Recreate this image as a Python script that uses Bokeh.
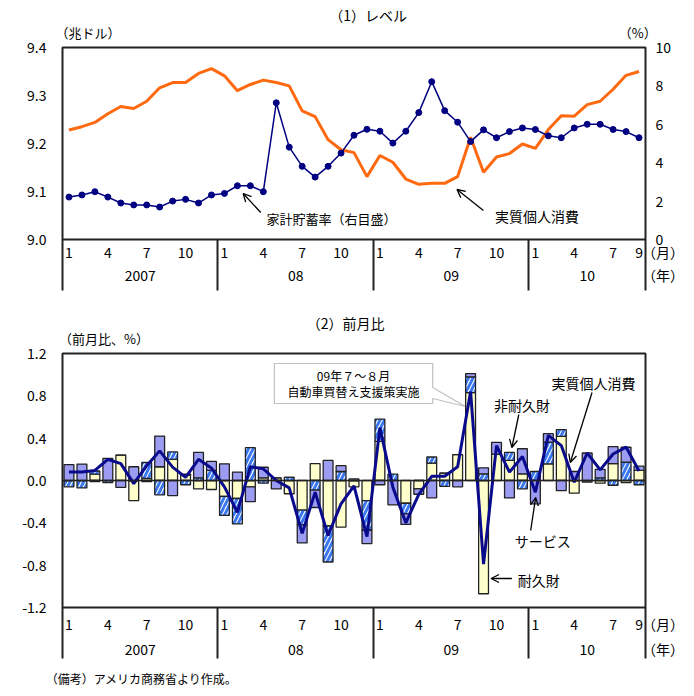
from bokeh.plotting import figure
from bokeh.models import (LinearAxis, Range1d, FixedTicker, NumeralTickFormatter, Label,
                          Arrow, OpenHead, Span, PolyAnnotation)
from bokeh.layouts import column
from bokeh.embed import file_html
from bokeh.resources import INLINE

FONT = "Noto Sans CJK JP"

# ---------------- data ----------------
months = list(range(45))  # Jan 2007 .. Sep 2010
month_ticks = [0, 3, 6, 9, 12, 15, 18, 21, 24, 27, 30, 33, 36, 39, 42, 44]
month_labels = ["1", "4", "7", "10"] * 3 + ["1", "4", "7", "9"]
year_centers = [5.5, 17.5, 29.5, 40.0]
year_labels = ["2007", "08", "09", "10"]
year_bounds = [-0.5, 11.5, 23.5, 35.5, 44.5]

# (1) level: real personal consumption (trillion $) and household saving rate (%)
pce_level = [9.228, 9.235, 9.244, 9.262, 9.277, 9.273, 9.288, 9.316, 9.327, 9.327, 9.346, 9.356,
             9.341, 9.310, 9.323, 9.332, 9.327, 9.320, 9.268, 9.256, 9.208, 9.187, 9.181, 9.131,
             9.175, 9.161, 9.126, 9.115, 9.117, 9.117, 9.131, 9.213, 9.140, 9.172, 9.179, 9.199,
             9.190, 9.229, 9.258, 9.257, 9.281, 9.288, 9.313, 9.342, 9.350]
saving_rate = [2.21, 2.32, 2.49, 2.21, 1.90, 1.80, 1.80, 1.69, 2.00, 2.09, 1.90, 2.32,
               2.40, 2.80, 2.80, 2.49, 7.12, 4.81, 3.81, 3.25, 3.81, 4.50, 5.43, 5.74,
               5.64, 5.02, 5.64, 6.61, 8.22, 6.71, 6.11, 5.10, 5.71, 5.30, 5.62, 5.81,
               5.73, 5.40, 5.30, 5.81, 6.00, 6.00, 5.73, 5.62, 5.30]

# (2) month-on-month change (%) and contributions
nondurable = [0.00, 0.00, 0.06, 0.00, 0.24, -0.19, 0.02, 0.13, 0.20, 0.05, -0.08, -0.085,
              -0.15, -0.17, -0.06, 0.025, 0.025, -0.125, -0.28, 0.16, -0.43, -0.44, -0.06, -0.19,
              0.37, 0.00, -0.215, -0.08, 0.165, 0.07, 0.245, 0.83, -1.07, 0.25, 0.19, 0.063,
              0.00, 0.158, 0.417, -0.12, -0.015, -0.025, 0.16, -0.02, 0.095]
durable = [-0.06, -0.07, 0.03, -0.02, 0.00, 0.00, 0.15, -0.135, 0.07, -0.04, 0.025, 0.095,
           -0.18, -0.24, 0.31, -0.025, 0.00, 0.03, -0.14, -0.09, -0.34, 0.085, 0.00, -0.28,
           0.21, 0.06, -0.10, 0.00, 0.057, -0.055, 0.00, 0.15, 0.063, 0.00, 0.075, -0.079,
           0.085, 0.205, 0.063, 0.00, 0.00, 0.025, -0.045, 0.174, -0.04]
services = [0.15, 0.155, -0.01, 0.21, -0.065, 0.13, -0.01, 0.29, -0.142, 0.01, 0.24, 0.085,
            0.158, 0.08, -0.14, 0.10, -0.08, 0.00, -0.17, -0.165, 0.19, 0.055, 0.015, -0.126,
            -0.04, -0.23, -0.10, -0.05, -0.164, 0.00, -0.06, 0.03, 0.057, 0.11, -0.165, 0.237,
            -0.22, 0.079, -0.095, 0.085, 0.26, 0.08, 0.16, 0.14, 0.04]
pce_mom = [0.08, 0.08, 0.095, 0.20, 0.16, -0.03, 0.14, 0.28, 0.126, 0.03, 0.20, 0.117,
           -0.06, -0.30, 0.13, 0.11, 0.00, -0.07, -0.50, -0.11, -0.52, -0.22, -0.05, -0.53,
           0.50, -0.063, -0.40, -0.13, 0.04, 0.04, 0.13, 0.84, -0.79, 0.33, 0.079, 0.227,
           -0.11, 0.426, 0.33, -0.016, 0.26, 0.10, 0.25, 0.316, 0.09]

PAD = "\u3000\u3000\u3000"   # keeps the unit marks to the right of the last divider


# --------------- helpers (pixel -> data for annotations) ---------------
def tx(px):
    return round(-0.5 + (px - 48) / (597 / 45), 3)

def ty(py):
    return 9.0 + (239 - py) / 480.0

def bx(px):
    return round(-0.5 + (px - 62) / (589 / 45), 3)

def by(py):
    return 1.2 - (py - 353) / (254 / 2.4)


def style_common(p):
    p.grid.visible = False
    p.outline_line_color = "#222222"
    p.outline_line_width = 2
    p.background_fill_color = "white"
    p.border_fill_color = "white"


def plain_axis(ax, standoff, size="14px"):
    ax.major_tick_line_color = None
    ax.minor_tick_line_color = None
    ax.major_tick_out = 0
    ax.major_tick_in = 0
    ax.minor_tick_out = 0
    ax.minor_tick_in = 0
    ax.axis_line_color = None
    ax.major_label_standoff = standoff
    ax.major_label_text_font = FONT
    ax.major_label_text_font_size = size
    ax.major_label_text_color = "black"


def add_month_axes(p, div_len, standoff_m, standoff_y):
    ticks_m = month_ticks + [44.5]
    labels_m = month_labels + [PAD + "（月）"]
    axA = LinearAxis(ticker=FixedTicker(ticks=ticks_m, minor_ticks=year_bounds),
                     major_label_overrides={t: l for t, l in zip(ticks_m, labels_m)})
    plain_axis(axA, standoff_m)
    axA.minor_tick_line_color = "#222222"
    axA.minor_tick_line_width = 2
    axA.minor_tick_out = div_len      # the year dividers
    ticks_y = year_centers + [44.5]
    labels_y = year_labels + [PAD + "（年）"]
    axB = LinearAxis(ticker=FixedTicker(ticks=ticks_y),
                     major_label_overrides={t: l for t, l in zip(ticks_y, labels_y)})
    plain_axis(axB, standoff_y)
    p.add_layout(axA, "below")
    p.add_layout(axB, "below")


def text_axis(p, side, ticks, labels, standoff, size):
    ax = LinearAxis(ticker=FixedTicker(ticks=ticks),
                    major_label_overrides={t: l for t, l in zip(ticks, labels)})
    plain_axis(ax, standoff, size)
    p.add_layout(ax, side)


def lab(p, x, y, text, size="14px", align="left"):
    p.add_layout(Label(x=x, y=y, text=text, text_font=FONT, text_font_size=size,
                       text_align=align, text_baseline="middle", text_color="black"))


def arrow(p, x0, y0, x1, y1):
    p.add_layout(Arrow(end=OpenHead(size=8, line_width=1.3, line_color="black"),
                       x_start=x0, y_start=y0, x_end=x1, y_end=y1,
                       line_color="black", line_width=1.3))


# ---------------- (1) level ----------------
p1 = figure(width=694, height=300, x_range=Range1d(-0.5, 44.5), y_range=Range1d(9.0, 9.4),
            x_axis_location=None, output_backend="svg", toolbar_location=None,
            min_border_left=48, min_border_right=49, min_border_top=47, min_border_bottom=61)
style_common(p1)
p1.extra_y_ranges = {"rate": Range1d(0, 10)}

p1.yaxis.ticker = FixedTicker(ticks=[9.0, 9.1, 9.2, 9.3, 9.4])
p1.yaxis.formatter = NumeralTickFormatter(format="0.0")
for ax in p1.yaxis:
    plain_axis(ax, 16)

rax = LinearAxis(y_range_name="rate", ticker=FixedTicker(ticks=[0, 2, 4, 6, 8, 10]))
plain_axis(rax, 10)
p1.add_layout(rax, "right")
add_month_axes(p1, 51, -49, 0)
text_axis(p1, "above", [tx(74), tx(637)], ["（兆ドル）", "（%）"], 6, "13px")
text_axis(p1, "above", [tx(361)], ["（1）レベル"], -5, "14px")

p1.line(months, pce_level, line_color="#FF6A10", line_width=3)
p1.line(months, saving_rate, y_range_name="rate", line_color="#000080", line_width=1.5)
p1.scatter(months, saving_rate, y_range_name="rate", size=6, fill_color="#000080",
           line_color="#000080")

lab(p1, tx(257), ty(218), "家計貯蓄率（右目盛）", "13px")
lab(p1, tx(491), ty(215), "実質個人消費", "14px")
arrow(p1, tx(251), ty(212), tx(233), ty(193))
arrow(p1, tx(479), ty(210), tx(452), ty(189))

# ---------------- (2) month-on-month ----------------
p2 = figure(width=694, height=396, x_range=Range1d(-0.5, 44.5), y_range=Range1d(-1.2, 1.2),
            x_axis_location=None, output_backend="svg", toolbar_location=None,
            min_border_left=62, min_border_right=43, min_border_top=53, min_border_bottom=89)
style_common(p2)
p2.yaxis.ticker = FixedTicker(ticks=[-1.2, -0.8, -0.4, 0.0, 0.4, 0.8, 1.2])
p2.yaxis.formatter = NumeralTickFormatter(format="0.0")
for ax in p2.yaxis:
    plain_axis(ax, 16)
add_month_axes(p2, 51, -45, 2)
text_axis(p2, "below", [bx(142)], ["（備考）アメリカ商務省より作成。"], 8, "12px")
text_axis(p2, "above", [bx(104)], ["（前月比、%）"], 6, "13px")
text_axis(p2, "above", [bx(348)], ["（2）前月比"], -7, "14px")

# stacked bars: positives stacked up from zero, negatives stacked down, in series order
pos = [0.0] * 45
neg = [0.0] * 45
stacks = []
for vals in (nondurable, durable, services):
    bots, tops = [], []
    for i, v in enumerate(vals):
        if v >= 0:
            b = pos[i]; t = b + v; pos[i] = t
        else:
            b = neg[i]; t = b + v; neg[i] = t
        bots.append(b); tops.append(t)
    stacks.append((bots, tops))

W = 0.76
p2.vbar(x=months, bottom=stacks[0][0], top=stacks[0][1], width=W,
        fill_color="#FFFFCC", line_color="#222222", line_width=1.3)
p2.vbar(x=months, bottom=stacks[1][0], top=stacks[1][1], width=W,
        fill_color="white", hatch_pattern="/", hatch_color="#3B78F0", hatch_weight=3,
        hatch_scale=9, line_color="#222222", line_width=1.3)
p2.vbar(x=months, bottom=stacks[2][0], top=stacks[2][1], width=W,
        fill_color="#9C9CF2", line_color="#222222", line_width=1.3)
p2.add_layout(Span(location=0, dimension="width", line_color="#222222", line_width=1.5))
p2.line(months, pce_mom, line_color="#0A0A8C", line_width=3)

# callout
cx = [bx(276), bx(436), bx(436), bx(469), bx(436), bx(436), bx(276)]
cy = [by(363), by(363), by(387), by(406), by(398), by(403), by(403)]
p2.add_layout(PolyAnnotation(xs=cx, ys=cy, fill_color="white", fill_alpha=1.0,
                             line_color="#333333", line_width=1.2))
lab(p2, bx(356), by(375), "09年７～８月", "12px", "center")
lab(p2, bx(356), by(391), "自動車買替え支援策実施", "12px", "center")

lab(p2, bx(498), by(404), "非耐久財", "14px")
arrow(p2, bx(523), by(414), bx(516), by(447))
lab(p2, bx(556), by(382), "実質個人消費", "14px")
arrow(p2, bx(597), by(392), bx(575), by(462))
lab(p2, bx(519), by(540), "サービス", "14px")
arrow(p2, bx(535), by(530), bx(540), by(497))
lab(p2, bx(522), by(579), "耐久財", "14px")
arrow(p2, bx(516), by(578), bx(495), by(578))

layout = column(p1, p2, spacing=0)
open("out.html", "w").write(file_html(layout, INLINE))
